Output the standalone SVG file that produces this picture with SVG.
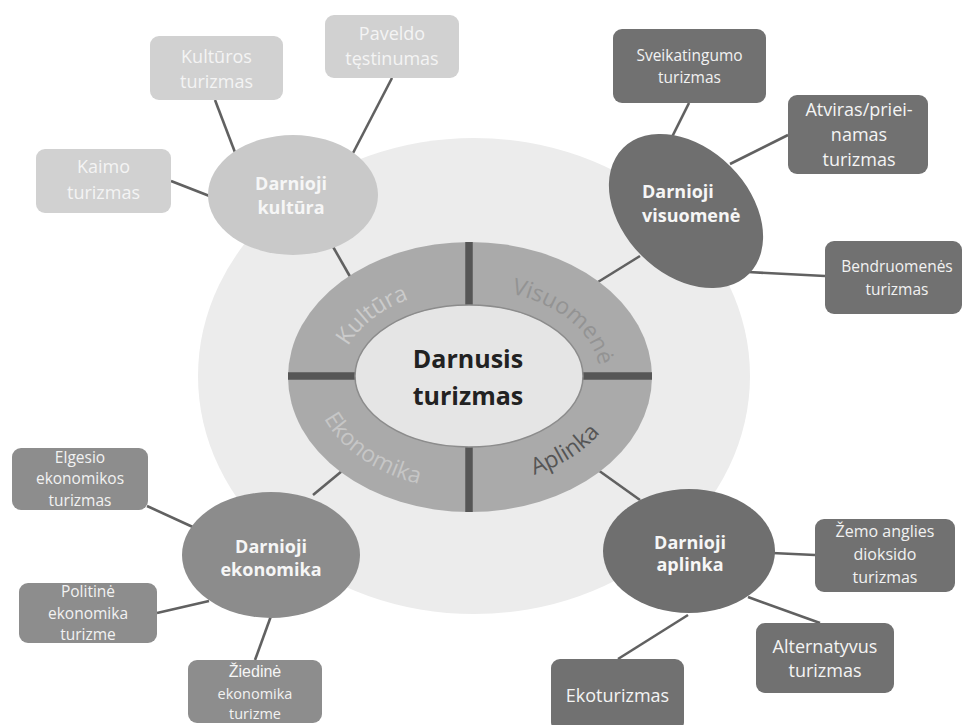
<svg xmlns="http://www.w3.org/2000/svg" width="963" height="725" viewBox="0 0 963 725">
<defs>
<style>
text{font-family:"Open Sans","Noto Sans","Liberation Sans",sans-serif;text-anchor:middle}
.ln{stroke:#616161;stroke-width:2.6;fill:none}
.bar{stroke:#565656;stroke-width:7.5}
.lbox{fill:#d1d1d1}
.mbox{fill:#8d8d8d}
.dbox{fill:#717171}
.bt{fill:#f4f4f4;font-size:18px}
.st{fill:#f2f2f2;font-size:15.5px}
.nl{fill:#f6f6f6;font-size:18px;font-weight:bold}
.rl{font-size:23px}
</style>
<path id="pK" d="M340.1,380.1 A130,88 0 0 1 443,290.9"/>
<path id="pV" d="M497,290.9 A130,88 0 0 1 599.9,380.1"/>
<path id="pE" d="M313.4,384.9 A157,113 0 0 0 453.6,489.4"/>
<path id="pA" d="M483.3,484.6 A152,108 0 0 0 621.4,386.4"/>
</defs>
<rect width="963" height="725" fill="#ffffff"/>
<ellipse cx="474" cy="376" rx="276" ry="238" fill="#ececec"/>

<g id="connectors">
<line class="ln" x1="171" y1="181" x2="212" y2="197"/>
<line class="ln" x1="215" y1="100" x2="236" y2="155"/>
<line class="ln" x1="392" y1="78" x2="352" y2="155"/>
<line class="ln" x1="332" y1="245" x2="352" y2="280"/>
<line class="ln" x1="689" y1="103" x2="672" y2="137"/>
<line class="ln" x1="788" y1="135" x2="730" y2="164"/>
<line class="ln" x1="748" y1="272" x2="825" y2="276"/>
<line class="ln" x1="640" y1="256" x2="598" y2="282"/>
<line class="ln" x1="147" y1="506" x2="195" y2="528"/>
<line class="ln" x1="157" y1="613" x2="209" y2="601"/>
<line class="ln" x1="271" y1="616" x2="255" y2="660"/>
<line class="ln" x1="313" y1="495" x2="342" y2="471"/>
<line class="ln" x1="772" y1="553" x2="815" y2="555"/>
<line class="ln" x1="748" y1="597" x2="820" y2="623"/>
<line class="ln" x1="688" y1="615" x2="618" y2="659"/>
<line class="ln" x1="640" y1="500" x2="598" y2="470"/>
</g>

<g id="center">
<ellipse cx="470" cy="377" rx="182" ry="135" fill="#aaaaaa"/>
<line class="bar" x1="469" y1="242" x2="469" y2="308"/>
<line class="bar" x1="469" y1="444" x2="469" y2="512"/>
<line class="bar" x1="288" y1="376" x2="358" y2="376"/>
<line class="bar" x1="580" y1="376" x2="652" y2="376"/>
<ellipse cx="469" cy="376" rx="114" ry="71" fill="#e5e5e5" stroke="#8c8c8c" stroke-width="1.5"/>
<text class="rl" fill="#cbcbcb"><textPath href="#pK" startOffset="50%">Kultūra</textPath></text>
<text class="rl" fill="#939393"><textPath href="#pV" startOffset="50%">Visuomenė</textPath></text>
<text class="rl" fill="#c6c6c6"><textPath href="#pE" startOffset="50%">Ekonomika</textPath></text>
<text class="rl" fill="#555555"><textPath href="#pA" startOffset="50%">Aplinka</textPath></text>
<text x="468" y="368" font-size="25" font-weight="bold" fill="#222222">Darnusis</text>
<text x="468" y="405" font-size="25" font-weight="bold" fill="#222222">turizmas</text>
</g>

<g id="n-kultura">
<ellipse cx="293" cy="195" rx="85" ry="60" fill="#c9c9c9"/>
<text class="nl" x="291" y="190">Darnioji</text>
<text class="nl" x="291" y="214">kultūra</text>
</g>
<g id="n-kaimo">
<rect class="lbox" x="36" y="149" width="135" height="64" rx="9"/>
<text class="bt" x="103.5" y="173">Kaimo</text>
<text class="bt" x="103.5" y="199">turizmas</text>
</g>
<g id="n-kulturos">
<rect class="lbox" x="150" y="36" width="133" height="64" rx="9"/>
<text class="bt" x="216.5" y="63">Kultūros</text>
<text class="bt" x="216.5" y="88">turizmas</text>
</g>
<g id="n-paveldo">
<rect class="lbox" x="325" y="15" width="134" height="63" rx="9"/>
<text class="bt" x="392" y="40">Paveldo</text>
<text class="bt" x="392" y="65">tęstinumas</text>
</g>

<g id="n-visuomene">
<ellipse cx="686" cy="211" rx="89" ry="63" fill="#6f6f6f" transform="rotate(45 686 211)"/>
<text class="nl" x="642" y="198" style="text-anchor:start">Darnioji</text>
<text class="nl" x="642" y="222" style="text-anchor:start">visuomenė</text>
</g>
<g id="n-sveikatingumo">
<rect class="dbox" x="613" y="29" width="153" height="74" rx="9"/>
<text class="st" x="689.5" y="61">Sveikatingumo</text>
<text class="st" x="689.5" y="83">turizmas</text>
</g>
<g id="n-atviras">
<rect class="dbox" x="788" y="95" width="140" height="79" rx="9"/>
<text class="bt" x="859" y="116">Atviras/priei-</text>
<text class="bt" x="859" y="141">namas</text>
<text class="bt" x="859" y="166">turizmas</text>
</g>
<g id="n-bendruomenes">
<rect class="dbox" x="825" y="241" width="137" height="73" rx="9"/>
<text class="st" x="897" y="272">Bendruomenės</text>
<text class="st" x="897" y="295">turizmas</text>
</g>

<g id="n-ekonomika">
<ellipse cx="271" cy="555" rx="89" ry="63" fill="#8c8c8c"/>
<text class="nl" x="271" y="553">Darnioji</text>
<text class="nl" x="271" y="576">ekonomika</text>
</g>
<g id="n-elgesio">
<rect class="mbox" x="12" y="448" width="136" height="62" rx="9"/>
<text class="st" x="80" y="463">Elgesio</text>
<text class="st" x="80" y="484">ekonomikos</text>
<text class="st" x="80" y="506">turizmas</text>
</g>
<g id="n-politine">
<rect class="mbox" x="19" y="583" width="138" height="60" rx="9"/>
<text class="st" x="88" y="597">Politinė</text>
<text class="st" x="88" y="619">ekonomika</text>
<text class="st" x="88" y="640">turizme</text>
</g>
<g id="n-ziedine">
<rect class="mbox" x="188" y="660" width="134" height="63" rx="9"/>
<text x="255" y="677" font-size="16" fill="#f6f6f6" style="font-family:'Liberation Sans',Arial,sans-serif">Žiedinė</text>
<text class="st" x="255" y="699" style="font-size:14.5px">ekonomika</text>
<text class="st" x="255" y="719" style="font-size:14.5px">turizme</text>
</g>

<g id="n-aplinka">
<ellipse cx="689" cy="551" rx="86" ry="62" fill="#6f6f6f"/>
<text class="nl" x="690" y="549">Darnioji</text>
<text class="nl" x="690" y="571">aplinka</text>
</g>
<g id="n-zemo">
<rect class="dbox" x="815" y="519" width="140" height="73" rx="9"/>
<text class="st" x="885" y="537" style="font-size:16px">Žemo anglies</text>
<text class="st" x="885" y="560" style="font-size:16px">dioksido</text>
<text class="st" x="885" y="583" style="font-size:16px">turizmas</text>
</g>
<g id="n-alternatyvus">
<rect class="dbox" x="756" y="623" width="138" height="70" rx="9"/>
<text class="bt" x="825" y="653">Alternatyvus</text>
<text class="bt" x="825" y="677">turizmas</text>
</g>
<g id="n-ekoturizmas">
<rect class="dbox" x="551" y="659" width="133" height="72" rx="9"/>
<text class="bt" x="617.5" y="702">Ekoturizmas</text>
</g>
</svg>
